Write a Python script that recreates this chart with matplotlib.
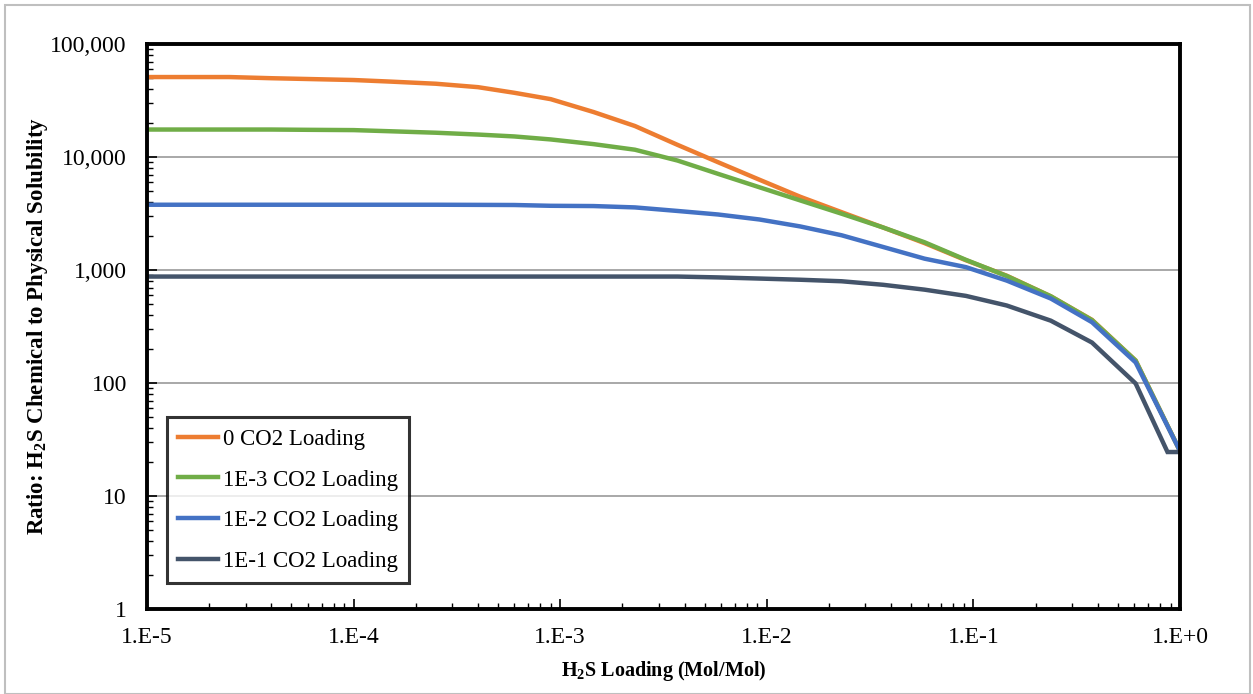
import math
import matplotlib
matplotlib.use("Agg")
import matplotlib.pyplot as plt
from matplotlib.ticker import FixedLocator, FuncFormatter, LogLocator, NullFormatter
from matplotlib.patches import Rectangle

plt.rcParams['font.family'] = ['Liberation Serif', 'DejaVu Serif']
plt.rcParams['mathtext.fontset'] = 'custom'
plt.rcParams['mathtext.rm'] = 'Liberation Serif'
plt.rcParams['mathtext.bf'] = 'Liberation Serif:bold'
plt.rcParams['mathtext.default'] = 'regular'

# H2S loading (mol/mol)
x_h2s = [1e-5, 1.5e-5, 2.5e-5, 4e-5, 6e-5, 1e-4, 1.5e-4, 2.5e-4, 4e-4, 6e-4,
         9e-4, 1.45e-3, 2.3e-3, 3.7e-3, 5.8e-3, 9.2e-3, 1.45e-2, 2.3e-2,
         3.65e-2, 5.8e-2, 9.2e-2, 0.145, 0.237, 0.375, 0.61, 1.0]
x_h2s_dark = x_h2s[:-1] + [0.87, 1.0]

ratio_co2_0 = [51000, 51000, 51000, 49800, 49000, 48000, 46500, 44500, 41500, 37000,
               32500, 25000, 18800, 12800, 9000, 6300, 4450, 3250, 2380, 1730,
               1220, 890, 585, 362, 158, 25]
ratio_co2_1e3 = [17500, 17500, 17500, 17500, 17400, 17300, 16900, 16400, 15800, 15200,
                 14300, 13000, 11600, 9300, 7100, 5400, 4130, 3150, 2380, 1760,
                 1230, 885, 585, 360, 158, 25]
ratio_co2_1e2 = [3780, 3780, 3780, 3780, 3780, 3780, 3780, 3780, 3770, 3760,
                 3700, 3680, 3580, 3330, 3100, 2800, 2430, 2030, 1600, 1260,
                 1060, 806, 559, 345, 152, 25]
ratio_co2_1e1 = [875, 875, 875, 875, 875, 875, 875, 875, 875, 875,
                 875, 875, 875, 875, 860, 840, 820, 795, 740, 670,
                 590, 485, 356, 228, 99, 24.5, 24.5]

labels = ['0 CO2 Loading', '1E-3 CO2 Loading', '1E-2 CO2 Loading', '1E-1 CO2 Loading']
colors = ['#ED7D31', '#70AD47', '#4472C4', '#44546A']

fig = plt.figure(figsize=(12.53, 6.94), dpi=100)
ax = fig.add_axes([147/1253, 1-609/694, (1180-147)/1253, (609-44)/694])

series = [(x_h2s, ratio_co2_0), (x_h2s, ratio_co2_1e3), (x_h2s, ratio_co2_1e2), (x_h2s_dark, ratio_co2_1e1)]
for (xs, ys), lab, c in zip(series, labels, colors):
    ax.plot(xs, ys, color=c, lw=3.2, label=lab, solid_joinstyle='miter')

ax.set_xscale('log')
ax.set_yscale('log')
ax.set_xlim(1e-5, 1)
ax.set_ylim(1, 1e5)

ax.xaxis.set_major_locator(FixedLocator([1e-5, 1e-4, 1e-3, 1e-2, 1e-1, 1]))
ax.xaxis.set_major_formatter(FuncFormatter(lambda v, p: '1.E%+d' % round(math.log10(v))))
ax.yaxis.set_major_locator(FixedLocator([1, 10, 100, 1000, 10000, 100000]))
ax.yaxis.set_major_formatter(FuncFormatter(lambda v, p: '{:,.0f}'.format(v)))
ax.xaxis.set_minor_locator(LogLocator(base=10, subs=range(2, 10), numticks=20))
ax.yaxis.set_minor_locator(LogLocator(base=10, subs=range(2, 10), numticks=20))
ax.xaxis.set_minor_formatter(NullFormatter())
ax.yaxis.set_minor_formatter(NullFormatter())

ax.tick_params(axis='both', which='major', direction='in', length=7, width=1.2,
               labelsize=17, colors='black')
ax.tick_params(axis='both', which='minor', direction='in', length=4, width=1.0)
ax.tick_params(axis='y', which='major', pad=14.5)
ax.tick_params(axis='x', which='major', pad=13)

ax.grid(True, which='major', axis='y', color='#999999', lw=1.2)
ax.set_axisbelow(True)
for s in ax.spines.values():
    s.set_linewidth(2.8)
    s.set_color('black')

ax.set_xlabel(r'H$_2$S Loading (Mol/Mol)', fontsize=14.5, fontweight='bold')
ax.set_ylabel(r'Ratio: H$_2$S Chemical to Physical Solubility', fontsize=16.5, fontweight='bold')
ax.xaxis.set_label_coords(0.5, (609-659)/565)
ax.yaxis.set_label_coords((50-147)/1033, 0.5)

leg = ax.legend(loc='lower left', bbox_to_anchor=(0.019, 0.046), borderaxespad=0,
                fontsize=16.5, frameon=True, fancybox=False, handlelength=1.75,
                handletextpad=0.2, labelspacing=0.85, borderpad=0.5)
leg.get_frame().set_edgecolor('black')
leg.get_frame().set_linewidth(2.2)

fig.patches.append(Rectangle((5/1253, 0), (1250-5)/1253, 1-5/694, transform=fig.transFigure,
                             fill=False, edgecolor='#BFBFBF', lw=1.5))

fig.savefig('out.png', dpi=100)
